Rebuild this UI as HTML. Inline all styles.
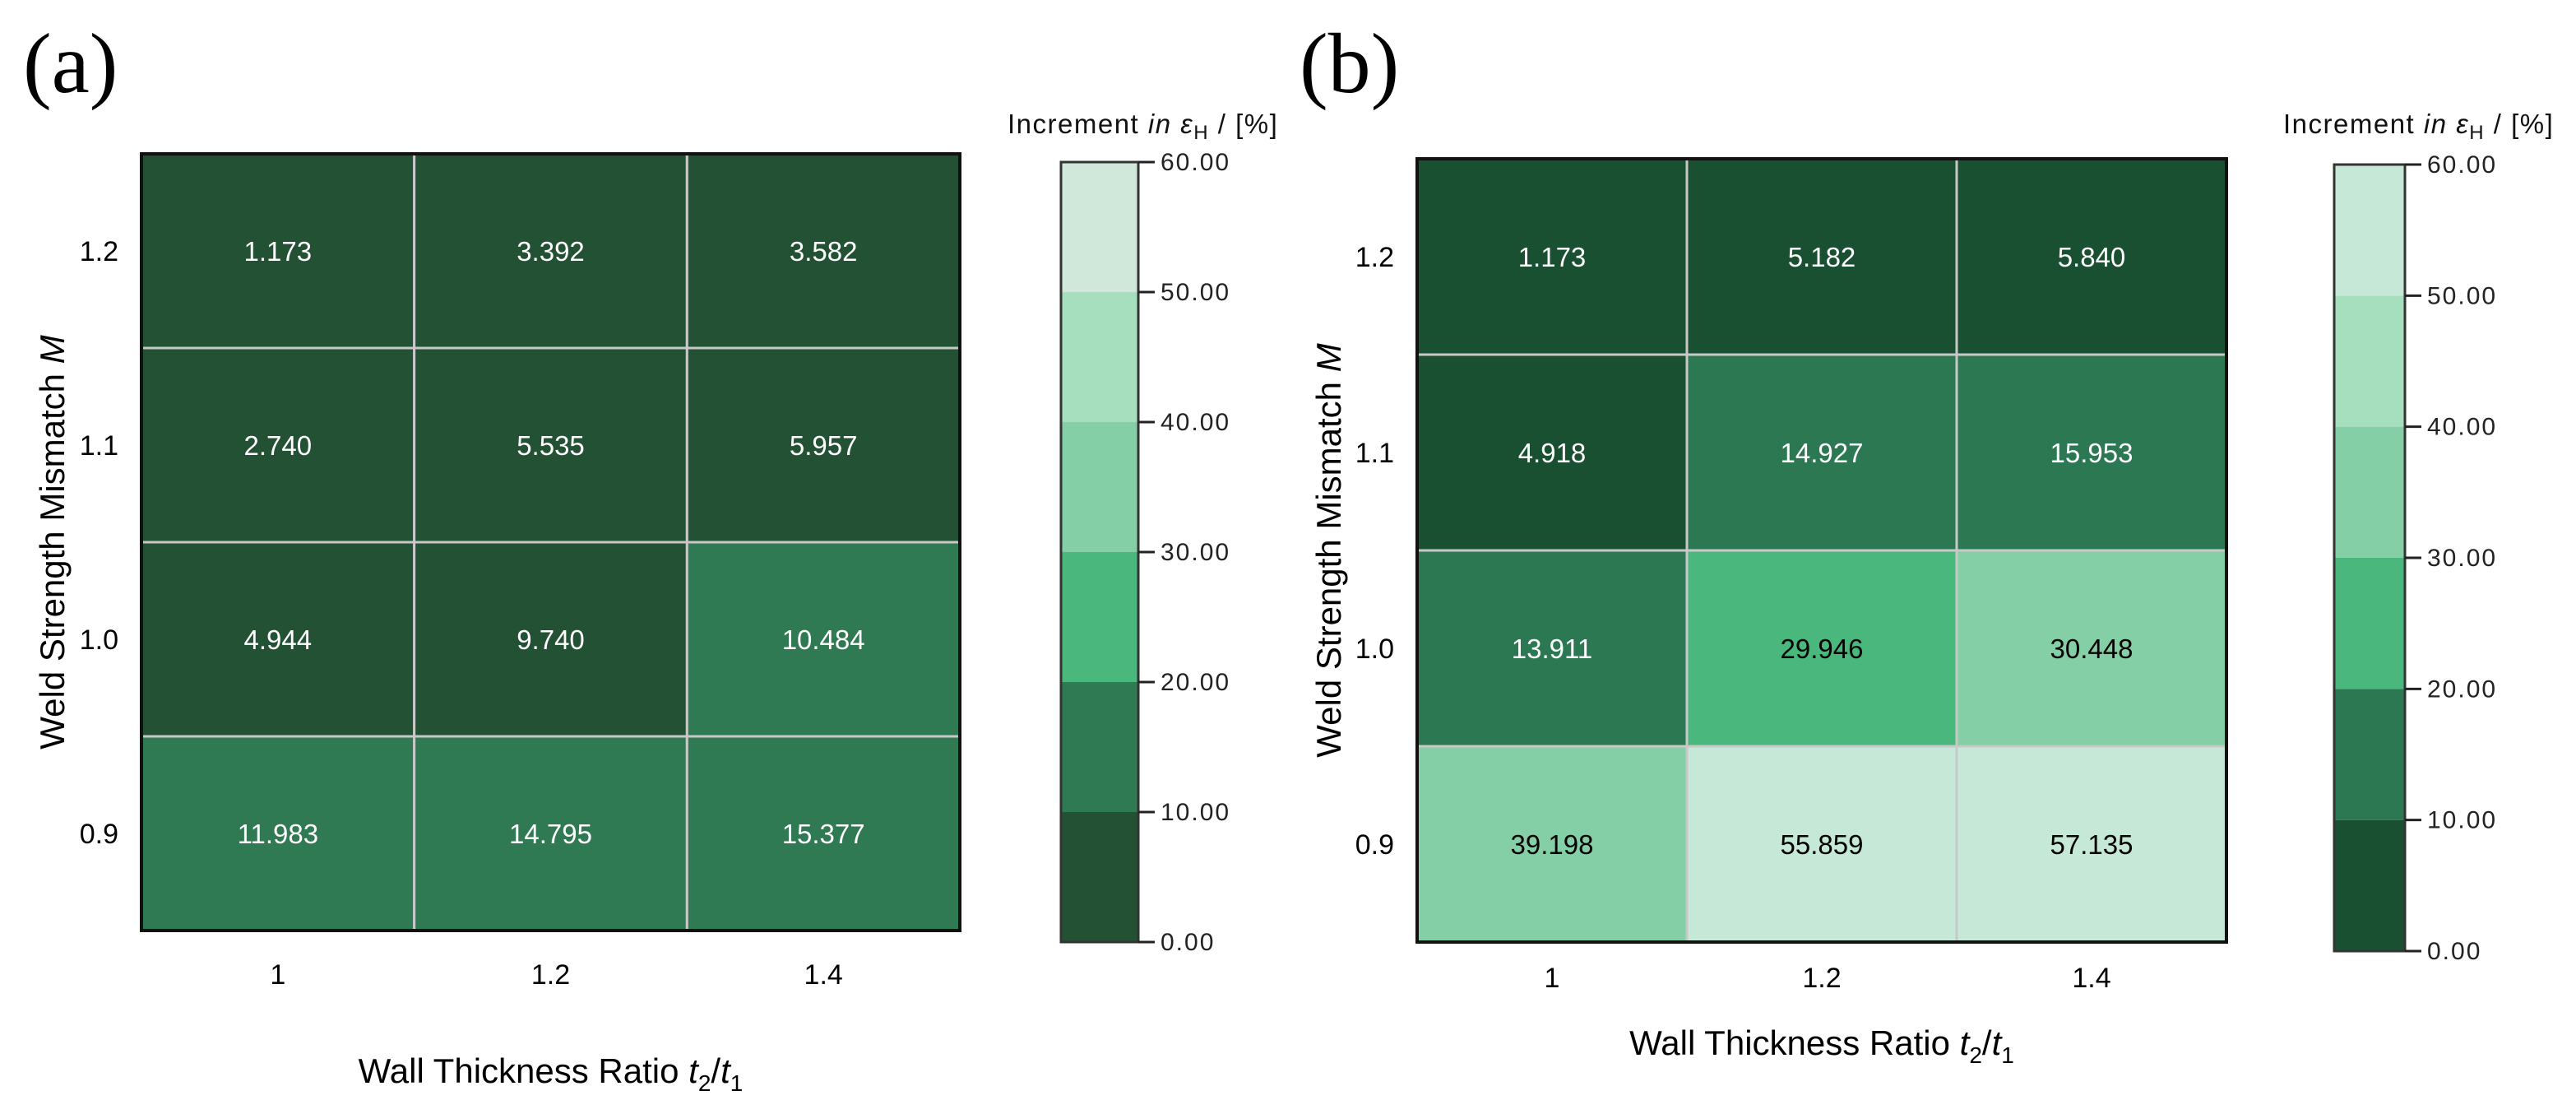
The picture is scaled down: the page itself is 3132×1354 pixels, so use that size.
<!DOCTYPE html>
<html><head><meta charset="utf-8"><style>
html,body{margin:0;padding:0;background:#fff;}
svg{display:block;font-family:"Liberation Sans",Arial,sans-serif;}
</style></head><body>
<svg id="fig" width="3132" height="1354" viewBox="0 0 3132 1354" xmlns="http://www.w3.org/2000/svg">
<text x="28" y="112" font-family="Liberation Serif,serif" font-size="104">(a)</text>
<text x="1580" y="112" font-family="Liberation Serif,serif" font-size="104">(b)</text>
</svg>
<script>
const rowLabels = ["1.2","1.1","1.0","0.9"];
const colLabels = ["1","1.2","1.4"];
const valuesA = [[1.173,3.392,3.582],[2.740,5.535,5.957],[4.944,9.740,10.484],[11.983,14.795,15.377]];
const valuesB = [[1.173,5.182,5.840],[4.918,14.927,15.953],[13.911,29.946,30.448],[39.198,55.859,57.135]];
const binEdges = [0,10,20,30,40,50,60];
const tickLabels = ["0.00","10.00","20.00","30.00","40.00","50.00","60.00"];
const colorsA = ["#225133","#2f7a53","#4ab77d","#84cfa5","#a6dfbe","#d0e8d9"];
const colorsB = ["#1a5032","#2c7853","#4ab77d","#84cfa5","#a6dfbe","#c6e8d7"];

const NS="http://www.w3.org/2000/svg";
const svg=document.getElementById('fig');
function mk(tag,attrs,parent,text){const e=document.createElementNS(NS,tag);for(const k in attrs)e.setAttribute(k,attrs[k]);if(text!==undefined)e.textContent=text;(parent||svg).appendChild(e);return e;}
function binOf(v){for(let i=0;i<binEdges.length-1;i++){if(v<binEdges[i+1])return i;}return binEdges.length-2;}

function panel(p,vals,colors,cfg){
  const g=mk('g',{});
  
  
  const nr=rowLabels.length,nc=colLabels.length;
  const cw=(cfg.R-cfg.L)/nc,ch=(cfg.B-cfg.T)/nr;
  const xs=c=>cfg.L+c*cw, ys=r=>cfg.T+r*ch;
  for(let r=0;r<nr;r++)for(let c=0;c<nc;c++){
    const v=vals[r][c];const b=binOf(v);
    const rect=mk('rect',{x:xs(c),y:ys(r),width:cw,height:ch,fill:colors[b],stroke:'#c8c8c8','stroke-width':3},g);
    
    
    const t=mk('text',{x:xs(c)+cw/2,y:ys(r)+ch/2+12,'text-anchor':'middle','font-size':33,fill:v>=20?'#000':'#fff'},g,v.toFixed(3));
    
    
  }
  const fr=mk('rect',{x:cfg.L,y:cfg.T,width:cfg.R-cfg.L,height:cfg.B-cfg.T,fill:'none',stroke:'#111','stroke-width':4},g);
  
  
  for(let r=0;r<nr;r++){
    const t=mk('text',{x:cfg.L-28,y:ys(r)+ch/2+12,'text-anchor':'end','font-size':34},g,rowLabels[r]);
    
    
  }
  for(let c=0;c<nc;c++){
    const t=mk('text',{x:xs(c)+cw/2,y:cfg.xtY,'text-anchor':'middle','font-size':34},g,colLabels[c]);
    
    
  }
  const xt=mk('text',{x:(cfg.L+cfg.R)/2,y:cfg.xTitleY,'text-anchor':'middle','font-size':42},g);
  xt.innerHTML='Wall Thickness Ratio <tspan font-style="italic">t</tspan><tspan font-size="28" dy="10">2</tspan><tspan dy="-10">/</tspan><tspan font-style="italic">t</tspan><tspan font-size="28" dy="10">1</tspan>';
  
  
  const yt=mk('text',{x:0,y:0,'text-anchor':'middle','font-size':42,transform:'translate('+cfg.yTitleX+','+(cfg.T+cfg.B)/2+') rotate(-90)'},g);
  yt.innerHTML='Weld Strength Mismatch <tspan font-style="italic">M</tspan>';
  
  
  const cb=cfg.cb;const nb=colors.length;
  const vy=v=>cb.B-(v-binEdges[0])/(binEdges[binEdges.length-1]-binEdges[0])*(cb.B-cb.T);
  for(let i=0;i<nb;i++){
    const s=mk('rect',{x:cb.L,y:vy(binEdges[i+1]),width:cb.R-cb.L,height:vy(binEdges[i])-vy(binEdges[i+1]),fill:colors[i]},g);
    
    
  }
  mk('rect',{x:cb.L,y:cb.T,width:cb.R-cb.L,height:cb.B-cb.T,fill:'none',stroke:'#333','stroke-width':3},g);
  for(let i=0;i<binEdges.length;i++){
    const y=vy(binEdges[i]);
    mk('line',{x1:cb.R,x2:cb.R+20,y1:y,y2:y,stroke:'#222','stroke-width':3},g);
    const t=mk('text',{x:cb.R+27,y:y+10,'font-size':30,'letter-spacing':2,fill:'#222'},g,tickLabels[i]);
    
    
  }
  const ct=mk('text',{x:cb.titleX,y:cb.titleY,'font-size':33,'letter-spacing':1.5,fill:'#111'},g);
  ct.innerHTML='Increment <tspan font-style="italic">in ε</tspan><tspan font-size="24" dy="7">H</tspan><tspan dy="-7"> / [%]</tspan>';
  
  
}
panel('a',valuesA,colorsA,{L:172,R:1167,T:187,B:1131,xtY:1196,xTitleY:1316,yTitleX:78,
  cb:{L:1290,R:1384,T:197,B:1145,titleX:1225,titleY:162}});
panel('b',valuesB,colorsB,{L:1723,R:2707,T:193,B:1145,xtY:1200,xTitleY:1282,yTitleX:1630,
  cb:{L:2838,R:2924,T:200,B:1156,titleX:2776,titleY:162}});
</script>
</body></html>
